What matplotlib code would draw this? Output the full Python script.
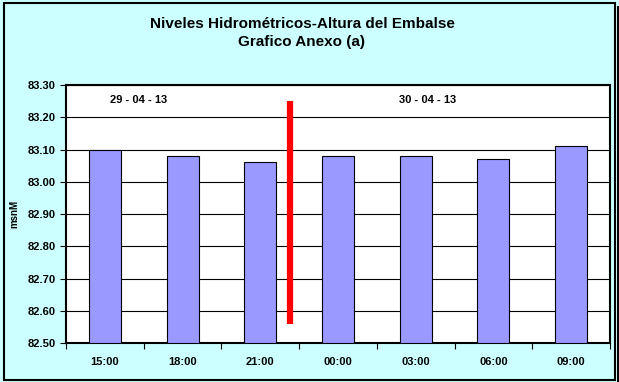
import matplotlib.pyplot as plt
import numpy as np
from matplotlib.patches import Rectangle

plt.rcParams['font.family'] = ['Liberation Sans', 'DejaVu Sans']

horas = ['15:00', '18:00', '21:00', '00:00', '03:00', '06:00', '09:00']
niveles = [83.10, 83.08, 83.06, 83.08, 83.08, 83.07, 83.11]
corte_x = 2.38  # red separator between days
corte_y = [82.56, 83.25]
fechas = ['29 - 04 - 13', '30 - 04 - 13']
fechas_x = [0.43, 4.15]

fig = plt.figure(figsize=(6.19, 3.82), dpi=100)
fig.patch.set_facecolor('#CCFFFF')

# outer frame with shadow
fig.patches.append(Rectangle((0.006, 0.006), 0.988, 0.985, transform=fig.transFigure,
                             fill=False, edgecolor='black', linewidth=1.5))
fig.patches.append(Rectangle((0.997, 0.0), 0.003, 0.985, transform=fig.transFigure,
                             facecolor='black', edgecolor='none'))

ax = fig.add_axes([66 / 619, 1 - 343 / 382, 544 / 619, 258 / 382])
ax.set_facecolor('white')

x = np.arange(len(horas))
ax.bar(x, np.array(niveles) - 82.5, bottom=82.5, width=0.41, color='#9999FF',
       edgecolor='black', linewidth=0.8, zorder=3)
ax.plot([corte_x, corte_x], corte_y, color='#FF0000', linewidth=4.5,
        solid_capstyle='butt', zorder=4)

ax.set_xlim(-0.5, len(horas) - 0.5)
ax.set_ylim(82.5, 83.3)
ax.set_yticks(np.arange(82.5, 83.31, 0.1))
ax.set_yticklabels(['%.2f' % v for v in np.arange(82.5, 83.31, 0.1)])
ax.yaxis.grid(True, color='black', linewidth=0.8, zorder=0)

ax.set_xticks(x)
ax.set_xticklabels(horas)
ax.set_xticks(np.arange(-0.5, len(horas)), minor=True)
ax.tick_params(axis='x', which='major', length=0, pad=10, labelsize=8)
ax.tick_params(axis='x', which='minor', length=4, direction='out', width=0.8)
ax.tick_params(axis='y', length=4, width=0.8, labelsize=8)
for lbl in ax.get_xticklabels() + ax.get_yticklabels():
    lbl.set_fontweight('bold')

for s in ax.spines.values():
    s.set_linewidth(1.5)

for fx, ft in zip(fechas_x, fechas):
    ax.text(fx, 83.253, ft, ha='center', va='center', fontsize=8, fontweight='bold')

ax.set_ylabel('msnM', fontsize=7, fontweight='bold', labelpad=6)

fig.text(302 / 619, 1 - 24 / 382, 'Niveles Hidrométricos-Altura del Embalse', ha='center',
         va='center', fontsize=11, fontweight='bold')
fig.text(302 / 619, 1 - 42 / 382, 'Grafico Anexo (a)', ha='center', va='center',
         fontsize=11, fontweight='bold')

fig.savefig('out.png', dpi=100, facecolor=fig.get_facecolor())
